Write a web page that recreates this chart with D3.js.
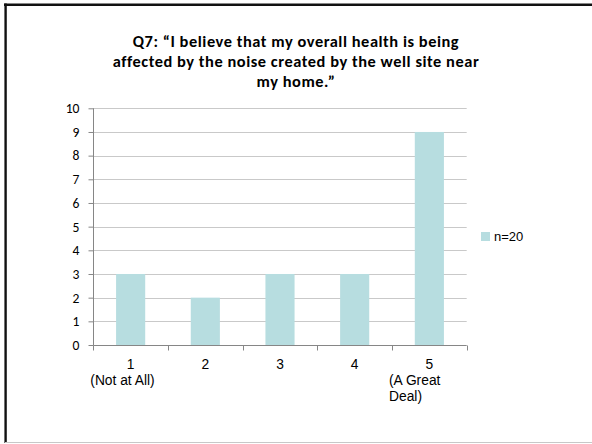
<!DOCTYPE html>
<html>
<head>
<meta charset="utf-8">
<script src="https://cdn.jsdelivr.net/npm/d3@7"></script>
<style>
  html, body { margin: 0; padding: 0; background: #fff; }
  svg { display: block; }
</style>
</head>
<body>
<svg id="chart" width="592" height="444"></svg>
<script>
// Survey responses, Q7 (n=20)
const categories = ["1", "2", "3", "4", "5"];
const categoryNotes = [["(Not at All)"], [], [], [], ["(A Great", "Deal)"]];
const counts = [3, 2, 3, 3, 9];
const yTicks = [0, 1, 2, 3, 4, 5, 6, 7, 8, 9, 10];
const titleLines = [
  "Q7: \u201cI believe that my overall health is being",
  "affected by the noise created by the well site near",
  "my home.\u201d"
];
const seriesName = "n=20";

const svg = d3.select("#chart");
const W = 592, H = 444;
const plot = { left: 93.3, right: 466.7, top: 108.3, bottom: 345 };
const barColor = "#b7dde0";
const gridColor = "#c9c9c9";
const axisColor = "#868686";

// Slide frame
svg.append("line").attr("x1", 4).attr("x2", W).attr("y1", 4.8).attr("y2", 4.8)
  .attr("stroke", "#111").attr("stroke-width", 2.6);
svg.append("line").attr("x1", 5.6).attr("x2", 5.6).attr("y1", 3.5).attr("y2", 443)
  .attr("stroke", "#111").attr("stroke-width", 2.4);
svg.append("line").attr("x1", 5).attr("x2", W).attr("y1", 442.5).attr("y2", 442.5)
  .attr("stroke", "#c8c8c8").attr("stroke-width", 1);

// Title: one text per line, 20px apart
const titleFont = 16.4;
const titleG = svg.append("g")
  .attr("text-anchor", "middle")
  .style("font-family", "Carlito, Calibri, Lato, sans-serif")
  .style("font-weight", "bold")
  .style("font-size", titleFont + "px")
  .attr("fill", "#000");
const titleTexts = titleG.selectAll("text").data(titleLines).join("text")
  .attr("x", W / 2)
  .attr("y", (d, i) => 47.3 + i * 19.8)
  .text(d => d);
// widen the letter spacing so the longest line spans the title block
const longest = titleTexts.nodes()[1];
const w = longest.getComputedTextLength();
if (w > 0 && w < 366) {
  titleG.style("letter-spacing", ((366 - w) / titleLines[1].length).toFixed(3) + "px");
}

// Scales
const x = d3.scaleBand().domain(categories).range([plot.left, plot.right]).padding(0);
const y = d3.scaleLinear().domain([0, 10]).range([plot.bottom, plot.top]);
const barW = x.step() * 0.39;

// Gridlines
svg.append("g").selectAll("line").data(yTicks.filter(d => d > 0)).join("line")
  .attr("x1", plot.left).attr("x2", plot.right)
  .attr("y1", d => Math.round(y(d)) + 0.5).attr("y2", d => Math.round(y(d)) + 0.5)
  .attr("stroke", gridColor).attr("stroke-width", 1);

// Bars
svg.append("g").selectAll("rect").data(counts).join("rect")
  .attr("x", (d, i) => x(categories[i]) + (x.step() - barW) / 2)
  .attr("width", barW)
  .attr("y", d => y(d))
  .attr("height", d => y(0) - y(d))
  .attr("fill", barColor);

// Y axis
const yAxis = svg.append("g")
  .attr("transform", `translate(${Math.round(plot.left) + 0.5},0)`)
  .call(d3.axisLeft(y).tickValues(yTicks).tickSize(5).tickPadding(9).tickFormat(d3.format("d")));
yAxis.select(".domain").attr("stroke", axisColor).attr("d", `M0,${plot.top}V${plot.bottom}`);
yAxis.selectAll(".tick line").attr("stroke", axisColor);
yAxis.selectAll(".tick text")
  .style("font-family", "Carlito, Calibri, Lato, sans-serif")
  .style("font-size", "13.6px")
  .attr("fill", "#000");

// X axis line and tick marks at category boundaries
const xAxisY = Math.round(plot.bottom) + 0.5;
svg.append("line").attr("x1", plot.left).attr("x2", plot.right)
  .attr("y1", xAxisY).attr("y2", xAxisY).attr("stroke", axisColor);
const bounds = categories.map(c => x(c)).concat([x(categories[categories.length - 1]) + x.step()]);
svg.append("g").selectAll("line").data(bounds).join("line")
  .attr("x1", d => Math.round(d) + 0.5).attr("x2", d => Math.round(d) + 0.5)
  .attr("y1", xAxisY).attr("y2", xAxisY + 5)
  .attr("stroke", axisColor);

// X labels
const xl = svg.append("g")
  .style("font-family", "'Liberation Sans', Arial, sans-serif")
  .style("font-size", "13.8px")
  .attr("fill", "#000");
categories.forEach((c, i) => {
  const cx = x(c) + x.step() / 2;
  xl.append("text").attr("x", cx).attr("y", 368.8).attr("text-anchor", "middle").text(c);
  categoryNotes[i].forEach((n, j) => {
    xl.append("text").attr("x", x(c) - 3).attr("y", 384.5 + j * 16.5).text(n);
  });
});

// Legend
svg.append("rect").attr("x", 481).attr("y", 232).attr("width", 9).attr("height", 9).attr("fill", barColor);
svg.append("text").attr("x", 494).attr("y", 241)
  .style("font-family", "'Liberation Sans', Arial, sans-serif")
  .style("font-size", "13px")
  .attr("fill", "#000")
  .text(seriesName);
</script>
</body>
</html>
